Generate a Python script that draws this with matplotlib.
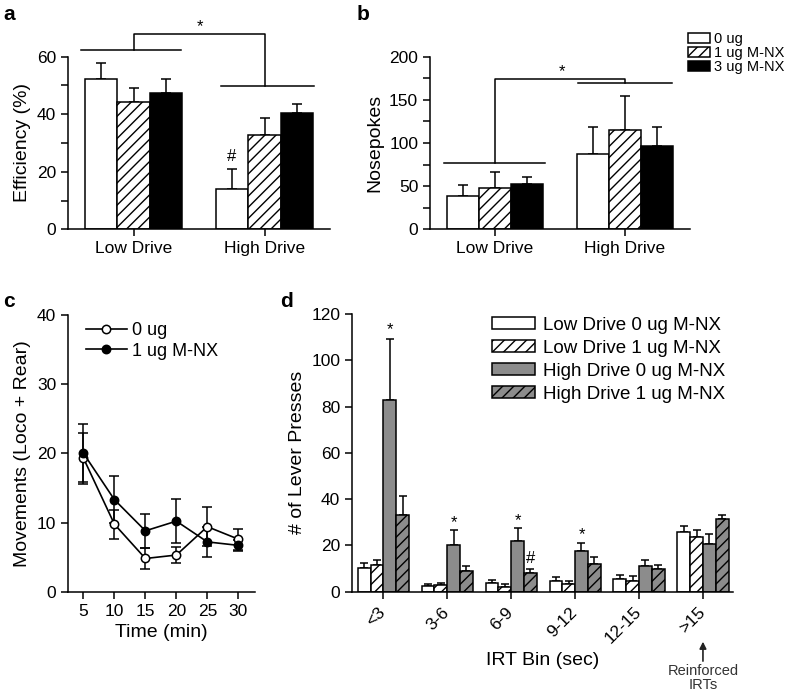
import matplotlib.pyplot as plt
from matplotlib.ticker import MultipleLocator
import numpy as np

plt.rcParams['font.family'] = ['Liberation Sans', 'DejaVu Sans']
plt.rcParams['hatch.linewidth'] = 1.0
plt.rcParams['axes.linewidth'] = 1.1

# panels a/b
drive_groups = ['Low Drive', 'High Drive']
dose_labels = ['0 ug', '1 ug M-NX', '3 ug M-NX']
eff_mean = [[52.2, 13.9], [44.1, 32.8], [47.3, 40.5]]
eff_err = [[5.5, 7.1], [5.0, 6.0], [4.8, 3.2]]
nose_mean = [[38.6, 87.3], [48.3, 114.7], [52.9, 96.5]]
nose_err = [[12.8, 31.2], [17.7, 40.1], [7.3, 22.4]]

# panel c
times = [5, 10, 15, 20, 25, 30]
mov_0 = [19.3, 9.75, 4.8, 5.3, 9.4, 7.6]
mov_0_err = [3.7, 2.1, 1.5, 1.1, 2.8, 1.5]
mov_1 = [20.0, 13.3, 8.8, 10.2, 7.2, 6.7]
mov_1_err = [4.2, 3.4, 2.5, 3.2, 2.2, 0.8]

# panel d
irt_bins = ['<3', '3-6', '6-9', '9-12', '12-15', '>15']
irt_labels = ['Low Drive 0 ug M-NX', 'Low Drive 1 ug M-NX',
              'High Drive 0 ug M-NX', 'High Drive 1 ug M-NX']
ld0 = [10.4, 2.5, 3.8, 4.8, 5.5, 26.0]
ld0_err = [2.2, 0.7, 1.4, 1.6, 1.8, 2.4]
ld1 = [11.6, 2.8, 2.0, 3.3, 4.8, 23.6]
ld1_err = [2.2, 1.1, 1.2, 1.2, 2.0, 3.2]
hd0 = [82.9, 20.3, 21.7, 17.7, 11.2, 20.6]
hd0_err = [26.5, 6.2, 6.0, 3.5, 2.7, 4.3]
hd1 = [33.3, 9.1, 8.0, 12.0, 9.8, 31.2]
hd1_err = [8.0, 1.8, 1.9, 3.2, 1.8, 1.9]
star_bins = [0, 1, 2, 3]
star_y = [115.5, 32, 33, 26.8]

W, H = 787, 698
fig = plt.figure(figsize=(W / 100, H / 100), dpi=100)


def px_axes(l, t, r, b):
    ax = fig.add_axes([l / W, 1 - b / H, (r - l) / W, (b - t) / H])
    ax.spines['top'].set_visible(False)
    ax.spines['right'].set_visible(False)
    ax.tick_params(which='both', direction='out', length=5, width=1.1,
                   labelsize=12.5)
    return ax


def up_err(ax, x, y, e, cap):
    ax.errorbar(x, y, yerr=[np.zeros(len(e)), e], fmt='none', ecolor='black',
                elinewidth=1.1, capsize=cap, capthick=1.1, zorder=1)


def mark(ax, x, y, s, off):
    ax.annotate(s, (x, y), xytext=(0, -off), textcoords='offset points',
                ha='center', va='baseline', fontsize=12,
                annotation_clip=False)


ax_a = px_axes(68, 56.7, 330, 229.3)
ax_b = px_axes(430, 56.7, 690, 229.3)
ax_c = px_axes(68, 315, 255, 591.7)
ax_d = px_axes(352, 314, 733, 591.7)

faces = ['white', 'white', 'black']
hatches = [None, '///', None]
x = np.arange(len(drive_groups))
w = 0.248
for ax, means, errs in [(ax_a, eff_mean, eff_err), (ax_b, nose_mean, nose_err)]:
    for i in range(3):
        pos = x + (i - 1) * w
        ax.bar(pos, means[i], w, color=faces[i], edgecolor='black',
               hatch=hatches[i], linewidth=1.1, label=dose_labels[i], zorder=2)
        up_err(ax, pos, means[i], errs[i], 3.6)
    ax.set_xticks(x)
    ax.set_xticklabels(drive_groups, fontsize=12.5)
    ax.set_xlim(-0.5, 1.5)

ax_a.set_ylim(0, 60)
ax_a.yaxis.set_major_locator(MultipleLocator(20))
ax_a.yaxis.set_minor_locator(MultipleLocator(10))
ax_a.set_ylabel('Efficiency (%)', fontsize=14)
mark(ax_a, 1 - w, 25.8, '#', 4.3)
br = dict(color='black', lw=1.1, clip_on=False)
ax_a.plot([-0.4, 0.36], [62.3, 62.3], **br)
ax_a.plot([0.665, 1.377], [49.9, 49.9], **br)
ax_a.plot([0, 0, 1, 1], [62.3, 67.9, 67.9, 49.9], **br)
mark(ax_a, 0.505, 72.2, '*', 7)

ax_b.set_ylim(0, 200)
ax_b.yaxis.set_major_locator(MultipleLocator(50))
ax_b.yaxis.set_minor_locator(MultipleLocator(25))
ax_b.set_ylabel('Nosepokes', fontsize=14)
ax_b.plot([-0.395, 0.388], [76.5, 76.5], **br)
ax_b.plot([0.64, 1.36], [169.2, 169.2], **br)
ax_b.plot([0, 0, 1, 1], [76.5, 174.0, 174.0, 169.2], **br)
mark(ax_b, 0.515, 188.4, '*', 7)
fig.legend(*ax_b.get_legend_handles_labels(), loc='upper left',
           bbox_to_anchor=(688 / W, 1 - 32 / H), frameon=False, fontsize=10.5,
           handlelength=1.5, handleheight=0.7, labelspacing=0.0,
           handletextpad=0.25, borderpad=0, borderaxespad=0)

# panel c
ax_c.errorbar(times, mov_0, yerr=mov_0_err, fmt='none', ecolor='black',
              elinewidth=1.1, capsize=3.6, capthick=1.1)
ax_c.errorbar(times, mov_1, yerr=mov_1_err, fmt='none', ecolor='black',
              elinewidth=1.1, capsize=3.6, capthick=1.1)
ax_c.plot(times, mov_0, '-o', color='black', mfc='white', mec='black', ms=6,
          lw=1.2, mew=1.1, label='0 ug', zorder=3)
ax_c.plot(times, mov_1, '-o', color='black', mfc='black', mec='black', ms=6,
          lw=1.2, mew=1.1, label='1 ug M-NX', zorder=3)
ax_c.set_xlim(2.5, 32.7)
ax_c.set_ylim(0, 40)
ax_c.set_xticks(times)
ax_c.yaxis.set_major_locator(MultipleLocator(10))
ax_c.set_xlabel('Time (min)', fontsize=14)
ax_c.set_ylabel('Movements (Loco + Rear)', fontsize=14)
ax_c.legend(loc='upper left', bbox_to_anchor=(0.096, 0.975), frameon=False,
            fontsize=13, handlelength=2.25, handletextpad=0.3,
            labelspacing=0.2, borderpad=0, borderaxespad=0)

# panel d
xd = np.arange(len(irt_bins))
wd = 0.2
d_series = [(ld0, ld0_err, 'white', None), (ld1, ld1_err, 'white', '///'),
            (hd0, hd0_err, '#8c8c8c', None), (hd1, hd1_err, '#8c8c8c', '///')]
for i, (vals, errs, fc, hh) in enumerate(d_series):
    pos = xd + (i - 1.5) * wd
    ax_d.bar(pos, vals, wd, color=fc, edgecolor='black', hatch=hh,
             linewidth=1.1, label=irt_labels[i], zorder=2)
    up_err(ax_d, pos, vals, errs, 2.6)
for b, yv in zip(star_bins, star_y):
    mark(ax_d, b + 0.5 * wd, yv, '*', 7)
mark(ax_d, 2 + 1.5 * wd, 14.8, '#', 4.3)
ax_d.set_xlim(-0.49, 5.47)
ax_d.set_ylim(0, 120)
ax_d.yaxis.set_major_locator(MultipleLocator(20))
ax_d.set_xticks(xd)
ax_d.set_xticklabels(irt_bins, rotation=45, ha='right', va='center',
                     rotation_mode='anchor', fontsize=12.5)
ax_d.tick_params(axis='x', pad=8)
ax_d.set_xlabel('IRT Bin (sec)', fontsize=14)
ax_d.set_ylabel('# of Lever Presses', fontsize=14)
ax_d.legend(loc='upper left', bbox_to_anchor=(0.367, 0.99), frameon=False,
            fontsize=13.5, handlelength=2.3, handleheight=0.6,
            handletextpad=0.45, labelspacing=0.32, borderpad=0,
            borderaxespad=0)
ax_d.annotate('', xy=(5, -0.18), xytext=(5, -0.25),
              xycoords=('data', 'axes fraction'),
              arrowprops=dict(arrowstyle='-|>', color='#222222', lw=1.2,
                              mutation_scale=10, shrinkA=0, shrinkB=0))
ax_d.text(5, -0.26, 'Reinforced\nIRTs', transform=ax_d.get_xaxis_transform(),
          ha='center', va='top', fontsize=10.5, color='#333333',
          linespacing=1.0)

for s, xp, yp in [('a', 3, 20), ('b', 357, 20), ('c', 3, 307), ('d', 280, 307)]:
    fig.text(xp / W, 1 - yp / H, s, fontsize=15, fontweight='bold',
             ha='left', va='baseline')

fig.savefig('out.png', dpi=100)
